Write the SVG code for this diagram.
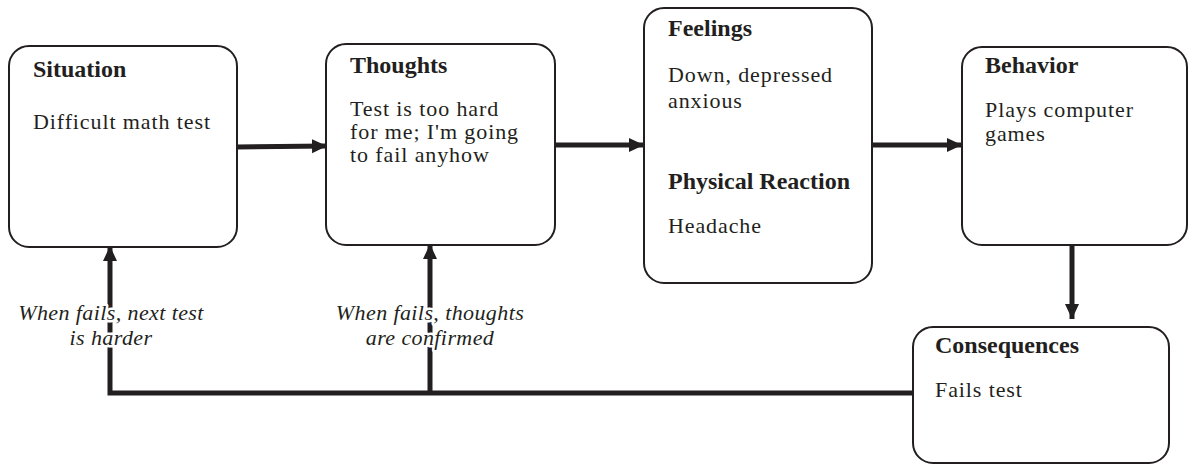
<svg xmlns="http://www.w3.org/2000/svg" width="1190" height="469" viewBox="0 0 1190 469">
  <style>
    .box { fill: #ffffff; stroke: #231f20; stroke-width: 2; }
    .head { font-family: "Liberation Serif", "Times New Roman", serif; font-weight: bold; font-size: 24px; fill: #231f20; }
    .body { font-family: "Liberation Serif", "Times New Roman", serif; font-size: 22px; letter-spacing: 0.9px; fill: #231f20; }
    .note { font-family: "Liberation Serif", "Times New Roman", serif; font-style: italic; font-size: 22px; letter-spacing: 0.4px; fill: #231f20; text-anchor: middle; paint-order: stroke; stroke: #ffffff; stroke-width: 5px; stroke-linejoin: round; }
    .wire { fill: none; stroke: #231f20; stroke-width: 5; }
    .arrow { fill: none; stroke: #231f20; stroke-width: 5; marker-end: url(#head); }
  </style>
  <defs>
    <marker id="head" markerUnits="userSpaceOnUse" markerWidth="16" markerHeight="16" viewBox="0 0 16 16" refX="15" refY="8" orient="auto">
      <path d="M0,1 L15,8 L0,15 Z" fill="#231f20"/>
    </marker>
  </defs>

  <rect width="1190" height="469" fill="#ffffff"/>

  <!-- connectors -->
  <g id="connectors">
    <line class="arrow" x1="237" y1="147" x2="327" y2="146"/>
    <line class="arrow" x1="555" y1="145" x2="644" y2="145"/>
    <line class="arrow" x1="872" y1="145" x2="962" y2="145"/>
    <line class="arrow" x1="1072" y1="245" x2="1072" y2="319"/>
    <!-- feedback loop from consequences back to situation and thoughts -->
    <polyline class="wire" points="913,393 110,393 110,300"/>
    <line class="arrow" x1="110" y1="300" x2="110" y2="246"/>
    <line class="arrow" x1="430" y1="393" x2="430" y2="244"/>
    <text class="note" x="111" y="320">When fails, next test</text>
    <text class="note" x="111" y="345">is harder</text>
    <text class="note" x="430" y="320">When fails, thoughts</text>
    <text class="note" x="430" y="345">are confirmed</text>
  </g>

  <g id="situation">
    <rect class="box" x="9" y="46" width="228" height="201" rx="20"/>
    <text class="head" x="33" y="77">Situation</text>
    <text class="body" x="33" y="129">Difficult math test</text>
  </g>

  <g id="thoughts">
    <rect class="box" x="326" y="44" width="229" height="201" rx="20"/>
    <text class="head" x="350" y="73">Thoughts</text>
    <text class="body" x="350" y="116">Test is too hard</text>
    <text class="body" x="350" y="139">for me; I'm going</text>
    <text class="body" x="350" y="162">to fail anyhow</text>
  </g>

  <g id="feelings">
    <rect class="box" x="644" y="8" width="228" height="275" rx="20"/>
    <text class="head" x="668" y="36">Feelings</text>
    <text class="body" x="668" y="82">Down, depressed</text>
    <text class="body" x="668" y="108">anxious</text>
    <text class="head" x="668" y="189">Physical Reaction</text>
    <text class="body" x="668" y="233">Headache</text>
  </g>

  <g id="behavior">
    <rect class="box" x="962" y="47" width="225" height="198" rx="20"/>
    <text class="head" x="985" y="73">Behavior</text>
    <text class="body" x="985" y="117">Plays computer</text>
    <text class="body" x="985" y="141">games</text>
  </g>

  <g id="consequences">
    <rect class="box" x="913" y="327" width="256" height="136" rx="20"/>
    <text class="head" x="935" y="353">Consequences</text>
    <text class="body" x="935" y="397">Fails test</text>
  </g>
</svg>
